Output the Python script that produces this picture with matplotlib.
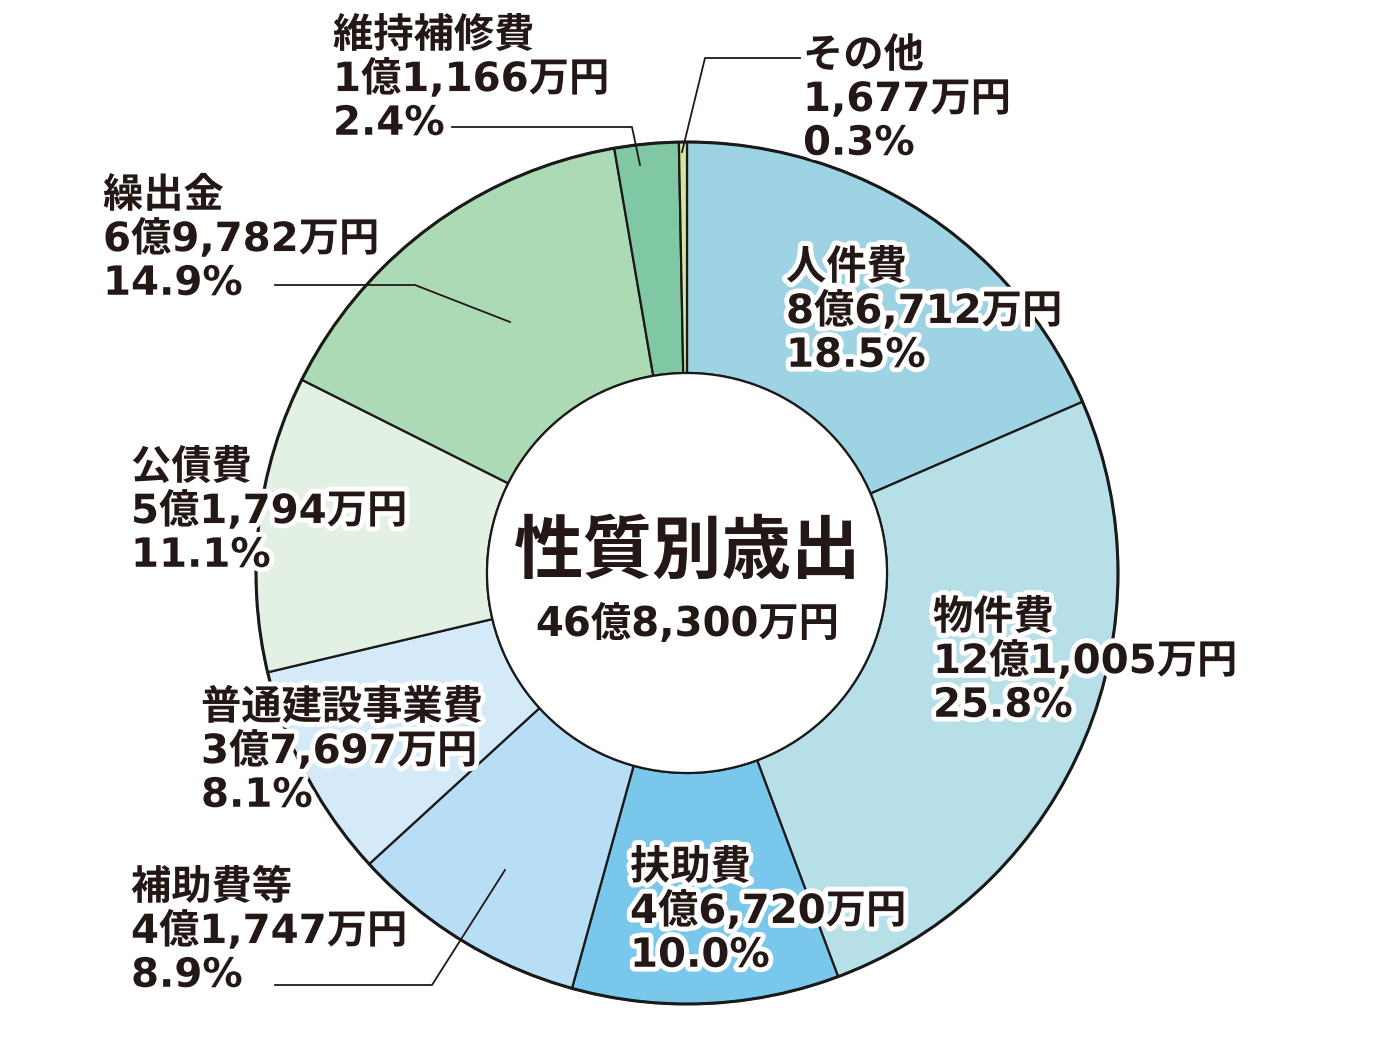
import matplotlib.pyplot as plt
import matplotlib.patheffects as pe
from matplotlib.patches import Circle

plt.rcParams['font.family'] = ['DejaVu Sans', 'Noto Sans CJK JP']

# data
names = ['人件費', '物件費', '扶助費', '補助費等', '普通建設事業費', '公債費', '繰出金', '維持補修費', 'その他']
amounts = ['8億6,712万円', '12億1,005万円', '4億6,720万円', '4億1,747万円', '3億7,697万円',
           '5億1,794万円', '6億9,782万円', '1億1,166万円', '1,677万円']
percents = [18.5, 25.8, 10.0, 8.9, 8.1, 11.1, 14.9, 2.4, 0.3]
total_label = '46億8,300万円'
title = '性質別歳出'

colors = ['#9ed3e3', '#b7dfe8', '#7ac7ec', '#b7def4', '#d5eaf8',
          '#e2f1e4', '#acdab4', '#80c7a4', '#d5e59a']

W, H = 1377, 1043
fig = plt.figure(figsize=(W / 100, H / 100), dpi=100)
ax = fig.add_axes([0, 0, 1, 1])

cx, cy = 687, H - 573
r_out, r_in = 431, 200

ax.pie(percents, colors=colors, startangle=90, counterclock=False,
       center=(cx, cy), radius=r_out,
       wedgeprops=dict(width=r_out - r_in, edgecolor='#1a1a1a', linewidth=1.6))
ax.add_patch(Circle((cx, cy), r_out, fill=False, edgecolor='#1a1a1a', linewidth=2.2, zorder=3))
ax.add_patch(Circle((cx, cy), r_in, facecolor='white', edgecolor='#1a1a1a', linewidth=1.6, zorder=3))

ax.set_xlim(0, W)
ax.set_ylim(0, H)
ax.set_aspect('equal')
ax.axis('off')

# centre text
ax.text(cx + 1, H - 553, title, ha='center', va='center', fontsize=50, fontweight='bold',
        family=['Noto Sans CJK JP'], color='#231815', zorder=5)
ax.text(cx, H - 625, total_label, ha='center', va='center', fontsize=29, fontweight='bold',
        color='#231815', zorder=5)

# label block positions (left x, centre y of middle line) in image pixels
label_pos = [(786, 312), (933, 662), (630, 912), (131, 932), (201, 752),
             (131, 512), (103, 240), (333, 80), (803, 100)]

halo = [pe.withStroke(linewidth=7, foreground='white')]
for name, amt, pct, (lx, ly) in zip(names, amounts, percents, label_pos):
    ax.text(lx, H - ly, f'{name}\n{amt}\n{pct:.1f}%', ha='left', va='center',
            fontsize=29, fontweight='bold', color='#231815', linespacing=1.12,
            path_effects=halo, zorder=6)

# leader lines (image pixel coordinates)
leaders = [
    [(452, 127), (632, 127), (640, 165)],
    [(800, 58), (705, 58), (682, 152)],
    [(275, 285), (415, 285), (510, 322)],
    [(275, 985), (432, 985), (505, 870)],
]
for pts in leaders:
    xs = [p[0] for p in pts]
    ys = [H - p[1] for p in pts]
    ax.plot(xs, ys, color='#231815', linewidth=1.3, zorder=4)

fig.savefig('out.png', dpi=100, facecolor='white')
